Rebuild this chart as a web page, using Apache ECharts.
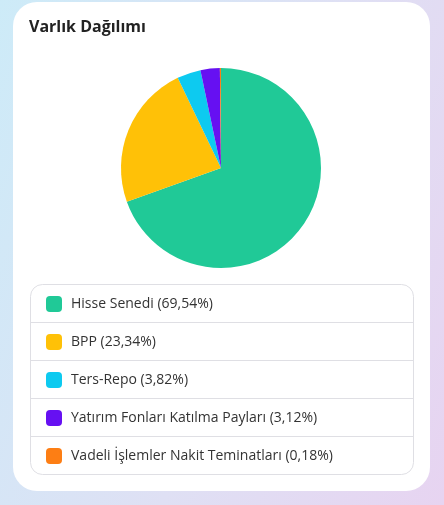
<!DOCTYPE html>
<html>
<head>
<meta charset="utf-8">
<script src="https://cdn.jsdelivr.net/npm/echarts@6/dist/echarts.min.js"></script>
<style>
  html, body { margin: 0; padding: 0; }
  body {
    width: 444px; height: 505px; overflow: hidden;
    background: linear-gradient(110deg, #cdebf8 0%, #dfe0f4 55%, #e7d4f1 100%);
  }
  #card {
    position: absolute; left: 13px; top: 2px;
    width: 417px; height: 489px;
    background: #fff; border-radius: 24px;
  }
  #chart { width: 417px; height: 489px; }
</style>
</head>
<body>
<div id="card"><div id="chart"></div></div>
<script>
// chart data
var categories = ["Hisse Senedi", "BPP", "Ters-Repo", "Yatırım Fonları Katılma Payları", "Vadeli İşlemler Nakit Teminatları"];
var shares = [69.54, 23.34, 3.82, 3.12, 0.18];
var colors = ["#20c997", "#ffc107", "#0dcaf0", "#6610f2", "#fd7e14"];

var pctText = {};
categories.forEach(function (c, i) {
    pctText[c] = shares[i].toFixed(2).replace(".", ",");
});

// legend box with separators
var boxX = 17, boxY = 282, boxW = 383, rowH = 38;
var graphics = [{
    type: "rect",
    shape: { x: boxX + 0.5, y: boxY + 0.5, width: boxW, height: rowH * categories.length, r: 12 },
    style: { fill: "none", stroke: "#dfdfe4", lineWidth: 1 },
    silent: true
}];
for (var i = 1; i < categories.length; i++) {
    graphics.push({
        type: "line",
        shape: { x1: boxX + 0.5, y1: boxY + rowH * i + 0.5, x2: boxX + boxW + 0.5, y2: boxY + rowH * i + 0.5 },
        style: { stroke: "#dfdfe4", lineWidth: 1 },
        silent: true
    });
}

var chart = echarts.init(document.getElementById("chart"));
chart.setOption({
    animation: false,
    title: {
        text: "Varlık Dağılımı",
        left: 11, top: 12,
        textStyle: { fontFamily: "Open Sans", fontWeight: "bold", fontSize: 16, color: "#222" }
    },
    legend: {
        orient: "vertical",
        left: 28, top: 289,
        itemWidth: 16, itemHeight: 16, itemGap: 22,
        icon: "roundRect",
        selectedMode: false,
        data: categories,
        formatter: function (name) { return name + " (" + pctText[name] + "%)"; },
        textStyle: { fontFamily: "Open Sans", fontSize: 14, color: "#333", padding: [0, 0, 0, 4] }
    },
    graphic: graphics,
    series: [{
        type: "pie",
        center: [208, 166],
        radius: 100,
        startAngle: 90,
        clockwise: true,
        label: { show: false },
        labelLine: { show: false },
        emphasis: { disabled: true },
        itemStyle: { borderWidth: 0 },
        data: categories.map(function (c, i) {
            return { name: c, value: shares[i], itemStyle: { color: colors[i] } };
        })
    }]
});
</script>
</body>
</html>
